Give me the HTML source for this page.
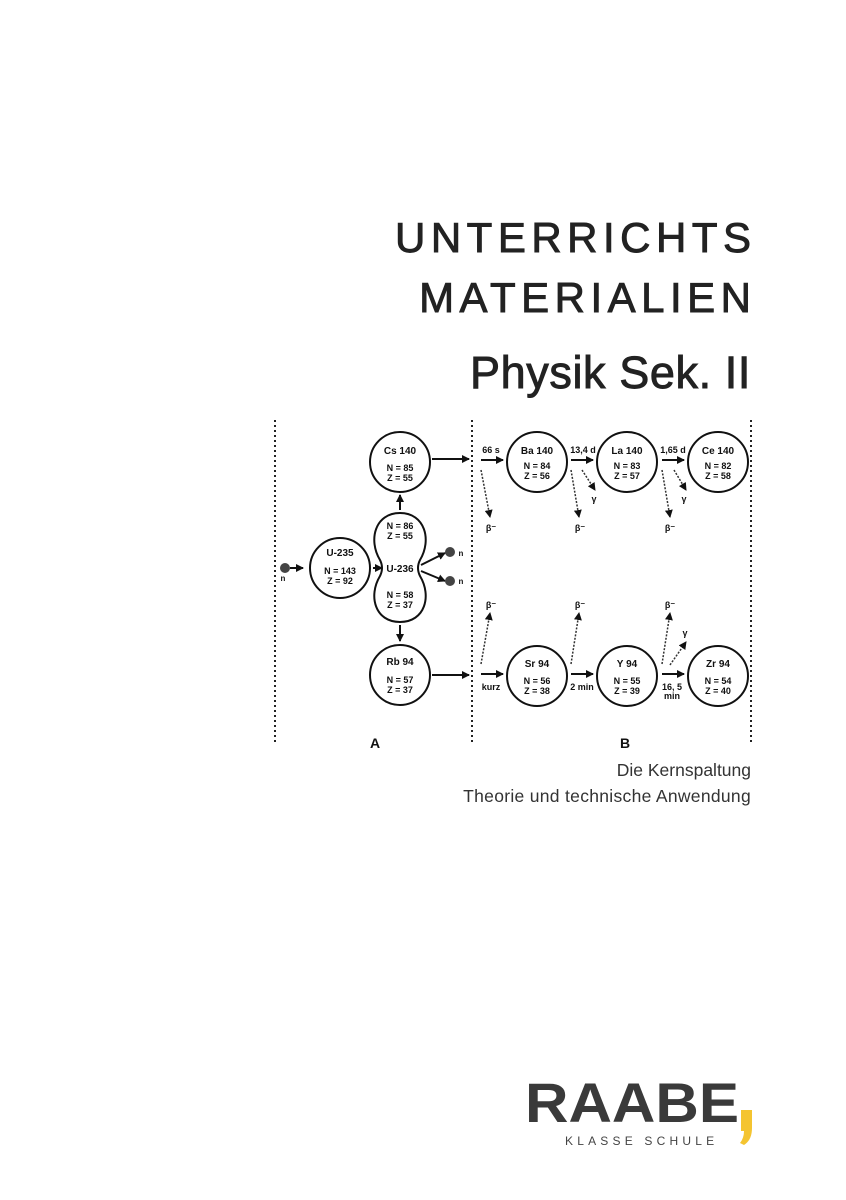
<!DOCTYPE html>
<html><head><meta charset="utf-8"><style>
html,body{margin:0;padding:0;background:#fff;}
body{width:846px;height:1200px;position:relative;overflow:hidden;font-family:"Liberation Sans",sans-serif;}
.t{position:absolute;right:95px;color:#222;white-space:nowrap;}
.h{-webkit-text-stroke:0.9px #222;}
</style></head><body>
<div class="t h" style="top:214px;font-size:42px;letter-spacing:5.5px;margin-right:-5.5px;">UNTERRICHTS</div>
<div class="t h" style="top:274px;font-size:42px;letter-spacing:5.5px;margin-right:-5.5px;">MATERIALIEN</div>
<div class="t h" style="top:347px;font-size:45px;letter-spacing:0.6px;">Physik Sek. II</div>
<div class="t" style="top:760px;font-size:17.5px;color:#333;">Die Kernspaltung</div>
<div class="t" style="top:786px;font-size:17.5px;color:#333;letter-spacing:0.3px;">Theorie und technische Anwendung</div>

<svg width="846" height="1200" style="position:absolute;left:0;top:0" font-family="Liberation Sans, sans-serif" font-weight="bold">
<defs><marker id="a" markerWidth="8" markerHeight="8" refX="7" refY="4" orient="auto" markerUnits="userSpaceOnUse"><path d="M0,0L8,4L0,8z" fill="#111"/></marker></defs>
<g stroke="#222" stroke-width="2" stroke-dasharray="2,3">
<line x1="275" y1="420" x2="275" y2="745"/><line x1="472" y1="420" x2="472" y2="745"/><line x1="751" y1="420" x2="751" y2="745"/>
</g>
<g fill="none" stroke="#111" stroke-width="2">
<circle cx="400" cy="462" r="30"/><circle cx="340" cy="568" r="30"/><circle cx="400" cy="675" r="30"/>
<circle cx="537" cy="462" r="30"/><circle cx="627" cy="462" r="30"/><circle cx="718" cy="462" r="30"/>
<circle cx="537" cy="676" r="30"/><circle cx="627" cy="676" r="30"/><circle cx="718" cy="676" r="30"/>
<path d="M380,560 C368,540 375,513 400,513 C425,513 432,540 420,560 Q416,568 420,576 C432,596 425,622 400,622 C375,622 368,596 380,576 Q384,568 380,560Z"/>
</g>
<g stroke="#111" stroke-width="2" marker-end="url(#a)">
<line x1="290" y1="568" x2="303" y2="568"/><line x1="373" y1="568" x2="382" y2="568"/>
<line x1="400" y1="510" x2="400" y2="495"/><line x1="400" y1="625" x2="400" y2="641"/>
<line x1="432" y1="459" x2="469" y2="459"/><line x1="432" y1="675" x2="469" y2="675"/>
<line x1="421" y1="565" x2="445" y2="553"/><line x1="421" y1="571" x2="445" y2="581"/>
<line x1="481" y1="460" x2="503" y2="460"/><line x1="571" y1="460" x2="593" y2="460"/><line x1="662" y1="460" x2="684" y2="460"/>
<line x1="481" y1="674" x2="503" y2="674"/><line x1="571" y1="674" x2="593" y2="674"/><line x1="662" y1="674" x2="684" y2="674"/>
</g>
<g stroke="#333" stroke-width="1.5" stroke-dasharray="2,1.5" marker-end="url(#a)">
<line x1="481" y1="470" x2="490" y2="517"/><line x1="571" y1="470" x2="579" y2="517"/><line x1="662" y1="470" x2="670" y2="517"/>
<line x1="582" y1="470" x2="595" y2="490"/><line x1="674" y1="470" x2="686" y2="490"/>
<line x1="481" y1="664" x2="490" y2="613"/><line x1="571" y1="664" x2="579" y2="613"/><line x1="662" y1="664" x2="670" y2="613"/>
<line x1="670" y1="665" x2="686" y2="642"/>
</g>
<circle cx="285" cy="568" r="5" fill="#444"/><circle cx="450" cy="552" r="5" fill="#444"/><circle cx="450" cy="581" r="5" fill="#444"/>
<g font-size="9" fill="#111" text-anchor="middle">
<text x="400" y="454" font-size="10">Cs 140</text><text x="400" y="471">N = 85</text><text x="400" y="481">Z = 55</text>
<text x="340" y="556" font-size="10">U-235</text><text x="340" y="574">N = 143</text><text x="340" y="584">Z =  92</text>
<text x="400" y="529">N = 86</text><text x="400" y="539">Z = 55</text><text x="400" y="572" font-size="10">U-236</text>
<text x="400" y="598">N = 58</text><text x="400" y="608">Z = 37</text>
<text x="400" y="665" font-size="10">Rb 94</text><text x="400" y="683">N = 57</text><text x="400" y="693">Z = 37</text>
<text x="537" y="454" font-size="10">Ba 140</text><text x="537" y="469">N = 84</text><text x="537" y="479">Z = 56</text>
<text x="627" y="454" font-size="10">La 140</text><text x="627" y="469">N = 83</text><text x="627" y="479">Z = 57</text>
<text x="718" y="454" font-size="10">Ce 140</text><text x="718" y="469">N = 82</text><text x="718" y="479">Z = 58</text>
<text x="537" y="667" font-size="10">Sr 94</text><text x="537" y="684">N = 56</text><text x="537" y="694">Z = 38</text>
<text x="627" y="667" font-size="10">Y 94</text><text x="627" y="684">N = 55</text><text x="627" y="694">Z = 39</text>
<text x="718" y="667" font-size="10">Zr 94</text><text x="718" y="684">N = 54</text><text x="718" y="694">Z = 40</text>
<text x="283" y="581" font-size="8">n</text><text x="461" y="556" font-size="8">n</text><text x="461" y="584" font-size="8">n</text>
<text x="491" y="453">66 s</text><text x="583" y="453">13,4 d</text><text x="673" y="453">1,65 d</text>
<text x="491" y="690">kurz</text><text x="582" y="690">2 min</text><text x="672" y="690">16, 5</text><text x="672" y="699">min</text>
<text x="491" y="531">β⁻</text><text x="580" y="531">β⁻</text><text x="670" y="531">β⁻</text>
<text x="491" y="608">β⁻</text><text x="580" y="608">β⁻</text><text x="670" y="608">β⁻</text>
<text x="594" y="502">γ</text><text x="684" y="502">γ</text><text x="685" y="636">γ</text>
<text x="375" y="748" font-size="14">A</text><text x="625" y="748" font-size="14">B</text>
</g>
<text x="525" y="1122" font-size="56" font-weight="bold" fill="#3a3a3a" textLength="214" lengthAdjust="spacingAndGlyphs">RAABE</text>
<path d="M741,1110 h11 v18 q0,12 -8,17 l-4,-2 q4,-5 4,-12 h-3z" fill="#f4c430"/>
<text x="565" y="1145" font-size="12" font-weight="normal" fill="#444" letter-spacing="4.2">KLASSE SCHULE</text>
</svg>
</body></html>
